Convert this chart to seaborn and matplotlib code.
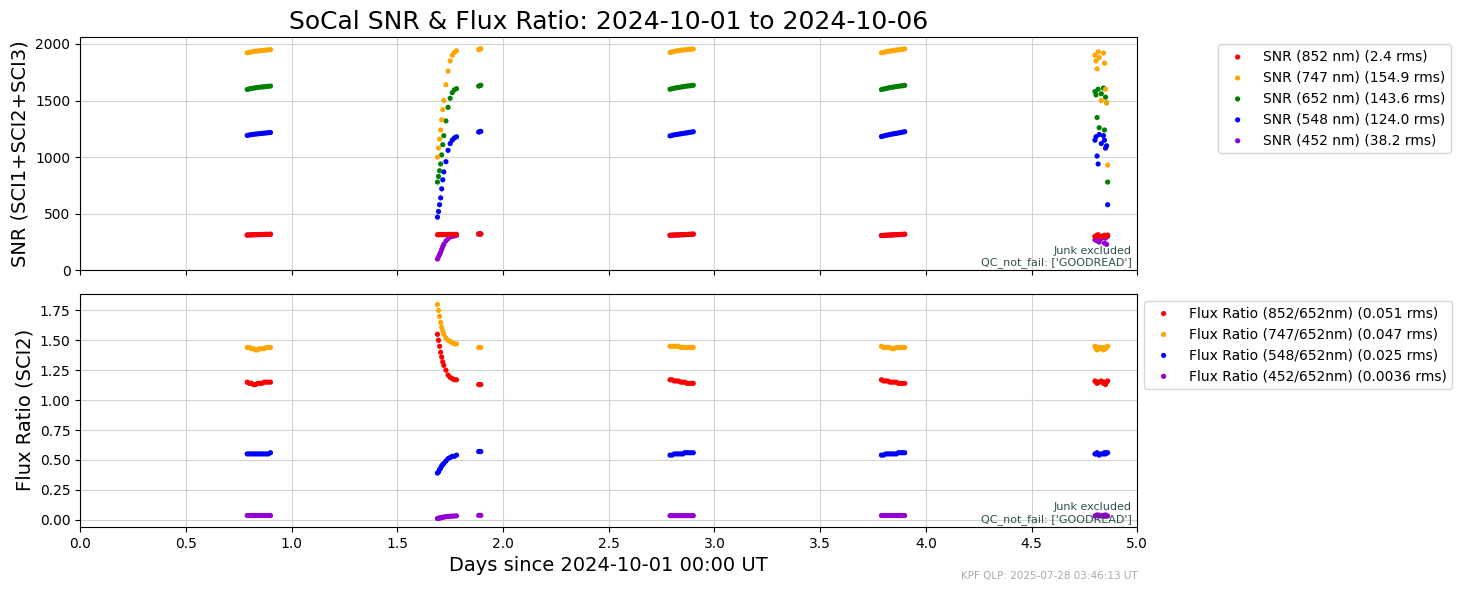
import numpy as np
import pandas as pd
import matplotlib
matplotlib.use("Agg")
import matplotlib.pyplot as plt
import seaborn as sns

# observation times (days since 2024-10-01), one list per observing block
t_a = [0.79, 0.80, 0.81, 0.82, 0.83, 0.84, 0.85, 0.86, 0.87, 0.88, 0.89, 0.90]
t_b = [1.690, 1.695, 1.700, 1.705, 1.710, 1.715, 1.720, 1.730, 1.740, 1.750, 1.760, 1.770, 1.780]
t_c = [1.885, 1.890, 1.895]
t_d = [2.79, 2.80, 2.81, 2.82, 2.83, 2.84, 2.85, 2.86, 2.87, 2.88, 2.89, 2.90]
t_e = [3.79, 3.80, 3.81, 3.82, 3.83, 3.84, 3.85, 3.86, 3.87, 3.88, 3.89, 3.90]
t_f = [4.800, 4.805, 4.810, 4.815, 4.820, 4.830, 4.840, 4.845, 4.850, 4.855, 4.860]
times = t_a + t_b + t_c + t_d + t_e + t_f

snr_852 = ([312, 313, 314, 315, 315, 316, 316, 317, 317, 318, 318, 319]
           + [315, 315, 316, 316, 316, 316, 317, 317, 317, 318, 318, 318, 318]
           + [322, 323, 323]
           + [310, 311, 312, 313, 313, 314, 315, 316, 317, 318, 319, 320]
           + [308, 309, 310, 311, 312, 313, 314, 315, 316, 317, 318, 319]
           + [300, 305, 310, 315, 300, 298, 305, 310, 300, 305, 312])
snr_747 = ([1922, 1926, 1930, 1933, 1936, 1938, 1940, 1942, 1944, 1946, 1948, 1950]
           + [1000, 1080, 1160, 1240, 1330, 1420, 1500, 1640, 1760, 1850, 1900, 1925, 1940]
           + [1950, 1955, 1958]
           + [1925, 1930, 1934, 1938, 1941, 1944, 1946, 1948, 1950, 1952, 1954, 1956]
           + [1922, 1926, 1930, 1934, 1937, 1940, 1943, 1946, 1948, 1951, 1953, 1956]
           + [1900, 1850, 1780, 1930, 1880, 1500, 1920, 1830, 1600, 1480, 930])
snr_652 = ([1598, 1603, 1607, 1610, 1613, 1616, 1618, 1620, 1622, 1624, 1626, 1628]
           + [780, 830, 880, 940, 1020, 1110, 1190, 1320, 1440, 1520, 1570, 1595, 1605]
           + [1628, 1632, 1635]
           + [1600, 1605, 1609, 1613, 1616, 1619, 1622, 1625, 1628, 1630, 1632, 1635]
           + [1597, 1602, 1606, 1610, 1614, 1617, 1620, 1623, 1626, 1629, 1631, 1634]
           + [1580, 1550, 1350, 1600, 1260, 1560, 1610, 1240, 1530, 1480, 780])
snr_548 = ([1192, 1196, 1199, 1202, 1204, 1206, 1208, 1210, 1212, 1214, 1216, 1218]
           + [470, 520, 580, 640, 720, 800, 870, 960, 1060, 1120, 1150, 1170, 1180]
           + [1222, 1225, 1228]
           + [1188, 1193, 1197, 1200, 1203, 1206, 1209, 1212, 1215, 1218, 1221, 1225]
           + [1182, 1187, 1192, 1196, 1200, 1204, 1207, 1210, 1214, 1217, 1221, 1225]
           + [1150, 1180, 1010, 940, 1200, 1120, 1190, 1150, 1080, 1100, 580])
snr_452 = ([312, 313, 314, 315, 315, 316, 316, 317, 317, 318, 318, 319]
           + [100, 120, 140, 160, 185, 210, 230, 260, 280, 295, 300, 305, 308]
           + [320, 321, 321]
           + [310, 311, 312, 313, 313, 314, 315, 316, 317, 318, 319, 320]
           + [308, 309, 310, 311, 312, 313, 314, 315, 316, 317, 318, 319]
           + [270, 290, 260, 300, 250, 280, 295, 240, 285, 230, 300])

fr_852 = ([1.15, 1.14, 1.14, 1.13, 1.13, 1.14, 1.14, 1.14, 1.15, 1.15, 1.15, 1.15]
          + [1.55, 1.50, 1.45, 1.40, 1.36, 1.32, 1.29, 1.25, 1.21, 1.19, 1.18, 1.17, 1.17]
          + [1.13, 1.13, 1.13]
          + [1.17, 1.17, 1.16, 1.16, 1.16, 1.15, 1.15, 1.15, 1.14, 1.14, 1.14, 1.14]
          + [1.17, 1.16, 1.16, 1.16, 1.15, 1.15, 1.15, 1.15, 1.14, 1.14, 1.14, 1.14]
          + [1.16, 1.15, 1.14, 1.15, 1.15, 1.16, 1.14, 1.15, 1.13, 1.15, 1.16])
fr_747 = ([1.44, 1.44, 1.43, 1.43, 1.42, 1.42, 1.43, 1.43, 1.43, 1.44, 1.44, 1.44]
          + [1.80, 1.75, 1.70, 1.65, 1.61, 1.58, 1.55, 1.52, 1.50, 1.49, 1.48, 1.47, 1.47]
          + [1.44, 1.44, 1.44]
          + [1.45, 1.45, 1.45, 1.45, 1.45, 1.44, 1.44, 1.44, 1.44, 1.44, 1.44, 1.44]
          + [1.45, 1.44, 1.44, 1.44, 1.44, 1.43, 1.43, 1.44, 1.44, 1.44, 1.44, 1.44]
          + [1.45, 1.43, 1.42, 1.44, 1.43, 1.44, 1.42, 1.44, 1.43, 1.44, 1.45])
fr_548 = ([0.55, 0.55, 0.55, 0.55, 0.55, 0.55, 0.55, 0.55, 0.55, 0.55, 0.55, 0.56]
          + [0.39, 0.40, 0.42, 0.43, 0.45, 0.46, 0.47, 0.49, 0.51, 0.52, 0.53, 0.53, 0.54]
          + [0.57, 0.57, 0.57]
          + [0.54, 0.54, 0.55, 0.55, 0.55, 0.55, 0.55, 0.56, 0.56, 0.56, 0.56, 0.56]
          + [0.54, 0.54, 0.55, 0.55, 0.55, 0.55, 0.55, 0.55, 0.56, 0.56, 0.56, 0.56]
          + [0.55, 0.55, 0.56, 0.55, 0.54, 0.55, 0.55, 0.56, 0.55, 0.56, 0.56])
fr_452 = ([0.035] * 12
          + [0.010, 0.012, 0.014, 0.016, 0.018, 0.020, 0.022, 0.025, 0.027, 0.029, 0.030, 0.031, 0.032]
          + [0.036] * 3
          + [0.034] * 12
          + [0.035] * 12
          + [0.030, 0.035, 0.040, 0.032, 0.038, 0.030, 0.036, 0.034, 0.040, 0.033, 0.031])

snr_labels = ["SNR (852 nm) (2.4 rms)", "SNR (747 nm) (154.9 rms)", "SNR (652 nm) (143.6 rms)",
              "SNR (548 nm) (124.0 rms)", "SNR (452 nm) (38.2 rms)"]
fr_labels = ["Flux Ratio (852/652nm) (0.051 rms)", "Flux Ratio (747/652nm) (0.047 rms)",
             "Flux Ratio (548/652nm) (0.025 rms)", "Flux Ratio (452/652nm) (0.0036 rms)"]
snr_colors = ["red", "orange", "green", "blue", "darkviolet"]
fr_colors = ["red", "orange", "blue", "darkviolet"]

fig, (ax1, ax2) = plt.subplots(2, 1, figsize=(14.58, 5.9), dpi=100, sharex=True)
fig.subplots_adjust(left=0.055, right=0.78, top=0.937, bottom=0.107, hspace=0.1)


def draw(ax, series, labels, colors):
    # earlier series sit on top, as in the reference
    n = len(series)
    for i, (v, lab, c) in enumerate(zip(series, labels, colors)):
        df = pd.DataFrame({"t": times, "v": v})
        sns.scatterplot(data=df, x="t", y="v", color=c, s=14, edgecolor="none",
                        label=lab, zorder=10 + n - i, ax=ax)


draw(ax1, [snr_852, snr_747, snr_652, snr_548, snr_452], snr_labels, snr_colors)
draw(ax2, [fr_852, fr_747, fr_548, fr_452], fr_labels, fr_colors)

for ax in (ax1, ax2):
    ax.grid(True, color="lightgray")
    ax.set_axisbelow(True)
    ax.set_xlim(0, 5)
    ax.set_xticks(np.arange(0, 5.01, 0.5))
    ax.text(0.995, 0.01, "Junk excluded\nQC_not_fail: ['GOODREAD']", transform=ax.transAxes,
            ha="right", va="bottom", fontsize=8, color="darkslategray", zorder=20)

ax1.set_ylim(0, 2060)
ax2.set_ylim(-0.06, 1.89)
ax1.set_xlabel("")
ax1.set_ylabel("SNR (SCI1+SCI2+SCI3)", fontsize=14)
ax2.set_ylabel("Flux Ratio (SCI2)", fontsize=14)
ax2.set_xlabel("Days since 2024-10-01 00:00 UT", fontsize=14)
ax1.set_title("SoCal SNR & Flux Ratio: 2024-10-01 to 2024-10-06", fontsize=18)

ax1.legend(loc="upper left", bbox_to_anchor=(1.07, 1.0))
ax2.legend(loc="upper left", bbox_to_anchor=(1.0, 1.0))

fig.text(0.78, 0.018, "KPF QLP: 2025-07-28 03:46:13 UT", ha="right", fontsize=7.5, color="darkgray")

fig.savefig("out.png", dpi=100)
